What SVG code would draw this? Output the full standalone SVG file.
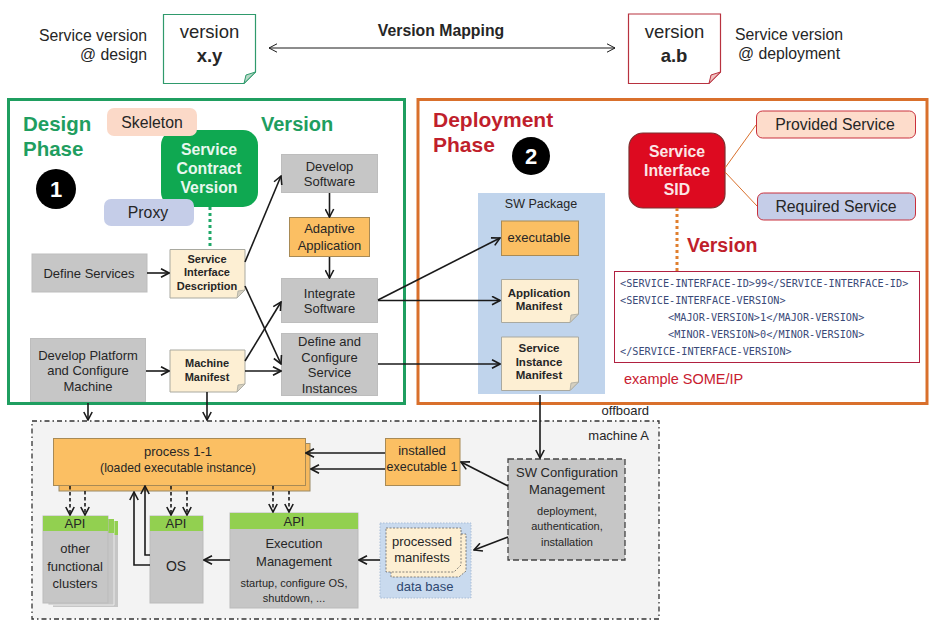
<svg xmlns="http://www.w3.org/2000/svg" width="929" height="624" viewBox="0 0 929 624">
<style>
text{font-family:"Liberation Sans",Arial,sans-serif;fill:#262626;text-anchor:middle}
.s12{font-size:12.5px}.s13{font-size:13px}.s14{font-size:14px}.s15{font-size:15.800px}.s16{font-size:18.500px}
.b{font-weight:bold}.l{text-anchor:start}.r{text-anchor:end}
.gray{fill:#c6c6c6;stroke:#bdbdbd}
.orange{fill:#fbbf63;stroke:#a88a55}
.cream{fill:#fdefd3;stroke:#a9a9a0}
.api{fill:#92d050}
.fold{fill:#d5cfc0;stroke:#a9a9a0;stroke-width:.8}
.ttl{font-size:20.500px;font-weight:bold}
.c{fill:none;stroke:#1a1a1a;stroke-width:1.6}
.a{marker-end:url(#ar)}
.d{stroke-dasharray:3.5 2.5}
.xml{font-family:"DejaVu Sans Mono","Liberation Mono",monospace;font-size:10.200px;fill:#3a4a78;text-anchor:start}
</style>
<defs>
<marker id="ar" viewBox="0 0 10 10" refX="9" refY="5" markerWidth="10" markerHeight="10" markerUnits="userSpaceOnUse" orient="auto"><path d="M1 .8L9 5L1 9.2" fill="none" stroke="#1a1a1a" stroke-width="1.6"/></marker>
<marker id="ao" viewBox="0 0 10 10" refX="9" refY="5" markerWidth="10" markerHeight="10" markerUnits="userSpaceOnUse" orient="auto-start-reverse"><path d="M1 .8L9 5L1 9.2" fill="none" stroke="#1a1a1a" stroke-width="1"/></marker>
</defs>
<rect width="929" height="624" fill="#fff"/>

<g id="frames">
<rect x="8.500" y="99.500" width="396" height="304" fill="#fff" stroke="#1f9e60" stroke-width="3"/>
<rect x="418" y="99.500" width="509" height="304" fill="#fff" stroke="#d9702c" stroke-width="3"/>
</g>

<g id="version-design">
<text class="s15 r" x="147" y="41">Service version</text>
<text class="s15 r" x="147" y="60">@ design</text>
<path d="M163.500 14.500H255.500V72L244 83.500H163.500Z" fill="#fff" stroke="#2f9a6c" stroke-width="1.200"/>
<path d="M255.500 72L246 75L244 83.500Z" fill="#b5d8c6" stroke="#2f9a6c"/>
<text class="s16" x="209.500" y="38">version</text>
<text class="s16 b" x="209.500" y="62">x.y</text>
</g>
<g id="version-deployment">
<path d="M628.500 14H720.500V72L709 83.500H628.500Z" fill="#fff" stroke="#b8323f" stroke-width="1.200"/>
<path d="M720.500 72L711 75L709 83.500Z" fill="#f2c0c0" stroke="#b8323f"/>
<text class="s16" x="674.500" y="38">version</text>
<text class="s16 b" x="674" y="62">a.b</text>
<text class="s15" x="789" y="40">Service version</text>
<text class="s15" x="789" y="59">@ deployment</text>
</g>
<g id="version-mapping">
<text class="b" font-size="15.800" x="441" y="36">Version Mapping</text>
</g>

<g id="design-labels">
<text class="ttl l" x="23" y="131" style="fill:#1f9e60">Design</text>
<text class="ttl l" x="23" y="156" style="fill:#1f9e60">Phase</text>
<text class="l" font-size="20" font-weight="bold" x="261" y="131" style="fill:#1f9e60">Version</text>
<circle cx="56" cy="189" r="20" fill="#000"/>
<text x="56" y="197" font-size="22" font-weight="bold" style="fill:#fff">1</text>
</g>
<g id="service-contract"><rect x="161" y="130" width="97" height="77" rx="15" fill="#0fa851"/>
<text class="s15 b" x="209" y="155" style="fill:#e8f7ee">Service</text><text class="s15 b" x="209" y="174" style="fill:#e8f7ee">Contract</text><text class="s15 b" x="209" y="193" style="fill:#e8f7ee">Version</text></g>
<g id="skeleton"><rect x="107" y="108" width="90" height="28" rx="7" fill="#fbd9c8"/><text class="s15" x="152" y="128">Skeleton</text></g>
<g id="proxy"><rect x="104" y="199" width="90" height="27" rx="7" fill="#c5cde8"/><text class="s15" x="148" y="218">Proxy</text></g>
<g id="develop-software"><rect class="gray" x="281.500" y="154.500" width="96" height="38"/><text class="s13" x="329.500" y="171">Develop</text><text class="s13" x="329.500" y="186">Software</text></g>
<g id="adaptive-application"><rect class="orange" x="289.500" y="217.500" width="80" height="39"/><text class="s13" x="329.500" y="233">Adaptive</text><text class="s13" x="329.500" y="250">Application</text></g>
<g id="integrate-software"><rect class="gray" x="281.500" y="278.500" width="96" height="44"/><text class="s13" x="329.500" y="298">Integrate</text><text class="s13" x="329.500" y="313">Software</text></g>
<g id="define-instances"><rect class="gray" x="281.500" y="333.500" width="96" height="62"/><text class="s13" x="329.500" y="345.500">Define and</text><text class="s13" x="329.500" y="361.500">Configure</text><text class="s13" x="329.500" y="377">Service</text><text class="s13" x="329.500" y="393">Instances</text></g>
<g id="define-services"><rect class="gray" x="32" y="254" width="115" height="38"/><text class="s13" x="89" y="278">Define Services</text></g>
<g id="develop-platform"><rect class="gray" x="30.500" y="338.500" width="115" height="63"/><text class="s13" x="88" y="360">Develop Platform</text><text class="s13" x="88" y="375">and Configure</text><text class="s13" x="88" y="391">Machine</text></g>
<g id="sid-doc"><path class="cream" d="M170 249.500H245V290L237 298H170Z"/><path class="fold" d="M245 290L238 291L237 298Z"/>
<text class="b" font-size="11" x="207" y="263">Service</text><text class="b" font-size="11" x="207" y="276">Interface</text><text class="b" font-size="11" x="207" y="290">Description</text></g>
<g id="machine-manifest"><path class="cream" d="M170 350H245V384L237 392H170Z"/><path class="fold" d="M245 384L238 385L237 392Z"/>
<text class="b" font-size="11" x="207" y="367">Machine</text><text class="b" font-size="11" x="207" y="381">Manifest</text></g>

<g id="deployment-labels">
<text class="l" font-size="21" font-weight="bold" x="433" y="127" style="fill:#c01f2c">Deployment</text>
<text class="l" font-size="21" font-weight="bold" x="433" y="152" style="fill:#c01f2c">Phase</text>
<circle cx="531" cy="156" r="19" fill="#000"/>
<text x="531" y="164" font-size="22" font-weight="bold" style="fill:#fff">2</text>
<text class="l" font-size="19.500" font-weight="bold" x="687" y="252" style="fill:#c01f2c">Version</text>
<text class="l" font-size="14.500" x="624" y="384" style="fill:#c8202f">example SOME/IP</text>
</g>
<g id="sw-package"><rect x="478" y="193" width="127" height="201" fill="#c0d4ec"/><text class="s12" x="541" y="208">SW Package</text></g>
<g id="executable"><rect class="orange" x="501.500" y="221" width="77" height="34.500"/><text class="s13" x="539" y="242">executable</text></g>
<g id="application-manifest"><path class="cream" d="M501.500 279.500H578.500V314L570 322.500H501.500Z"/><path class="fold" d="M578.500 314L571 315L570 322.500Z"/>
<text class="b" font-size="11.500" x="539" y="297">Application</text><text class="b" font-size="11.500" x="539" y="310">Manifest</text></g>
<g id="service-instance-manifest"><path class="cream" d="M501.500 337H578.500V382L570 390.500H501.500Z"/><path class="fold" d="M578.500 382L571 383L570 390.500Z"/>
<text class="b" font-size="11.500" x="539" y="352">Service</text><text class="b" font-size="11.500" x="539" y="366">Instance</text><text class="b" font-size="11.500" x="539" y="379">Manifest</text></g>
<g id="service-interface-sid"><rect x="629" y="133" width="96" height="75" rx="14" fill="#dd0a20" stroke="#7d3030" stroke-width="1.200"/>
<text class="s15 b" x="677" y="157" style="fill:#fbe6e6">Service</text><text class="s15 b" x="677" y="176" style="fill:#fbe6e6">Interface</text><text class="s15 b" x="677" y="195" style="fill:#fbe6e6">SID</text></g>
<g id="provided-service"><rect x="756.500" y="111" width="159" height="27" rx="6" fill="#fddccb" stroke="#c9303c"/><text class="s15" x="835" y="129.500">Provided Service</text></g>
<g id="required-service"><rect x="757.500" y="193" width="158" height="27" rx="6" fill="#c5cde8" stroke="#c9303c"/><text class="s15" x="836" y="211.500">Required Service</text></g>
<g id="xml-box"><rect x="614.500" y="271.500" width="305" height="91" fill="#fff" stroke="#b02040"/>
<text class="xml" x="620" y="287">&lt;SERVICE-INTERFACE-ID&gt;99&lt;/SERVICE-INTERFACE-ID&gt;</text>
<text class="xml" x="620" y="304">&lt;SERVICE-INTERFACE-VERSION&gt;</text>
<text class="xml" x="668" y="321">&lt;MAJOR-VERSION&gt;1&lt;/MAJOR-VERSION&gt;</text>
<text class="xml" x="668" y="338">&lt;MINOR-VERSION&gt;0&lt;/MINOR-VERSION&gt;</text>
<text class="xml" x="620" y="355">&lt;/SERVICE-INTERFACE-VERSION&gt;</text></g>

<g id="machine-a">
<rect x="32" y="421" width="627" height="198" fill="#f3f3f3" stroke="#333" stroke-width="1.300" stroke-dasharray="5 3 1.500 3"/>
<text class="s13 r" x="649" y="415">offboard</text>
<text class="s13 r" x="649" y="440">machine A</text>
</g>
<g id="process">
<rect x="59" y="443.500" width="251" height="47.500" fill="#f6b95e" stroke="#9a8a66"/>
<rect class="orange" x="53.500" y="438.500" width="252" height="47"/>
<text class="s13" x="178" y="456">process 1-1</text><text font-size="12.200" x="178" y="472">(loaded executable instance)</text>
</g>
<g id="other-clusters">
<path d="M53 521H118V607H53Z" fill="#c6c6c6"/><path d="M53 521H118V535H53Z" class="api"/>
<path d="M48 519H114V605H48Z" fill="#c6c6c6" stroke="#f3f3f3" stroke-width=".8"/><path d="M48 519H114V533H48Z" class="api"/>
<rect x="43" y="516" width="65" height="87" fill="#c6c6c6" stroke="#bbb"/><rect class="api" x="43" y="516" width="65" height="15"/>
<text class="s13" x="75" y="528">API</text>
<text class="s13" x="75" y="553">other</text><text class="s13" x="75" y="571">functional</text><text class="s13" x="75" y="588">clusters</text>
</g>
<g id="os"><rect x="150" y="516" width="53" height="87" fill="#c6c6c6" stroke="#bbb"/><rect class="api" x="150" y="516" width="53" height="15"/>
<text class="s13" x="176" y="528">API</text><text class="s14" x="176" y="571">OS</text></g>
<g id="execution-management"><rect x="230" y="513" width="128" height="95" fill="#c6c6c6" stroke="#bbb"/><rect class="api" x="230" y="513" width="128" height="16"/>
<text class="s13" x="294" y="526">API</text><text class="s13" x="294" y="548">Execution</text><text class="s13" x="294" y="566">Management</text>
<text font-size="11" x="294" y="587">startup, configure OS,</text><text font-size="11" x="294" y="602">shutdown, ...</text></g>
<g id="installed-executable"><rect class="orange" x="385.500" y="438.500" width="74.500" height="47"/>
<text class="s13" x="422" y="455">installed</text><text class="s12" x="422" y="471">executable 1</text></g>
<g id="sw-configuration"><rect x="508" y="459" width="117" height="101" fill="#c6c6c6" stroke="#444" stroke-width="1.300" stroke-dasharray="6 3"/>
<text class="s13" x="567" y="477">SW Configuration</text><text class="s13" x="567" y="494">Management</text>
<text font-size="11" x="567" y="515">deployment,</text><text font-size="11" x="567" y="530">authentication,</text><text font-size="11" x="567" y="546">installation</text></g>
<g id="database"><rect x="380" y="523" width="91" height="75" fill="#c9daee" stroke="#a9bdd6" stroke-dasharray="1.500 1.500"/>
<path d="M391 534H466V571L459 577H391Z" fill="#fdefd3" stroke="#666" stroke-width=".8" stroke-dasharray="2 1.500"/>
<path d="M386 528H461V565L454 572H386Z" fill="#fdefd3" stroke="#666" stroke-width=".8" stroke-dasharray="2 1.500"/>
<text class="s13" x="422" y="546">processed</text><text class="s13" x="422" y="562">manifests</text>
<text class="s13" x="425" y="591" style="fill:#2f4870">data base</text></g>

<g id="connectors">
<path d="M269 48H615" fill="none" stroke="#1a1a1a" stroke-width="1" marker-start="url(#ao)" marker-end="url(#ao)"/>
<path d="M210 207V249" fill="none" stroke="#1fa868" stroke-width="3" stroke-dasharray="3 3"/>
<path d="M677 208V271" fill="none" stroke="#e07f2e" stroke-width="3" stroke-dasharray="3 3"/>
<path d="M725 168L756 125M725 172L757 206" fill="none" stroke="#d9702c"/>
<path class="c a" d="M147 273H169"/>
<path class="c a" d="M146 371H169"/>
<path class="c a" d="M245 262L281 176"/>
<path class="c a" d="M245 286L281 364"/>
<path class="c a" d="M245 361L281 302"/>
<path class="c a" d="M245 371L281 371"/>
<path class="c a" d="M329.500 193V217"/>
<path class="c a" d="M329.500 257V278"/>
<path class="c a" d="M378 300L500 238"/>
<path class="c a" d="M378 300.500H500"/>
<path class="c a" d="M378 364H500"/>
<path class="c a" d="M88 403V420"/>
<path class="c a" d="M207 392V420"/>
<path class="c a" d="M540 395V458"/>
<path class="c a" d="M385 453H306"/>
<path class="c a" d="M385 469H311"/>
<path class="c a" d="M508 486L461 462"/>
<path class="c a" d="M508 537L474 550"/>
<path class="c a" d="M380 560H359"/>
<path class="c a" d="M230 560H204"/>
<path class="c a" d="M150 565H134V492"/>
<path class="c a" d="M150 555H145V486"/>
<path class="c a d" d="M70 486V515"/>
<path class="c a d" d="M85 491V515"/>
<path class="c a d" d="M171 486V515"/>
<path class="c a d" d="M187 491V515"/>
<path class="c a d" d="M273 486V512"/>
<path class="c a d" d="M289 491V512"/>
</g>
</svg>
